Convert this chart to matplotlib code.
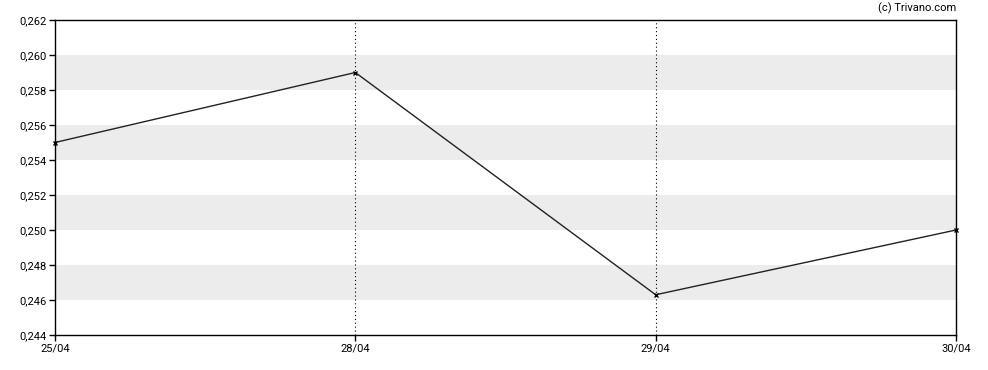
import matplotlib
matplotlib.use("Agg")
import matplotlib.pyplot as plt

dates = ["25/04", "28/04", "29/04", "30/04"]
prices = [0.255, 0.259, 0.2463, 0.250]
y_ticks = [0.244, 0.246, 0.248, 0.250, 0.252, 0.254, 0.256, 0.258, 0.260, 0.262]
y_labels = ["0,244", "0,246", "0,248", "0,250", "0,252", "0,254", "0,256", "0,258", "0,260", "0,262"]
bands = [(0.246, 0.248), (0.250, 0.252), (0.254, 0.256), (0.258, 0.260)]
vlines_at = ["28/04", "29/04"]

plt.rcParams['font.family'] = ['Roboto', 'DejaVu Sans']

fig = plt.figure(figsize=(9.88, 3.70), dpi=100)
ax = fig.add_axes([55/988, 1-335/370, (956-55)/988, (335-20)/370])

x = list(range(len(dates)))
for lo, hi in bands:
    ax.axhspan(lo, hi, color='#ececec', zorder=0, lw=0)
for d in vlines_at:
    ax.axvline(dates.index(d), color='black', linestyle=(0, (1, 2.5)), lw=0.8, zorder=1)

ax.plot(x, prices, color='#222222', lw=1.0, marker='x', markersize=3.5, mew=1.0, mec='black', zorder=3, clip_on=False)

ax.set_xlim(0, len(dates) - 1)
ax.set_ylim(y_ticks[0], y_ticks[-1])
ax.set_xticks(x)
ax.set_xticklabels(dates)
ax.set_yticks(y_ticks)
ax.set_yticklabels(y_labels)
ax.tick_params(axis='both', direction='out', length=4, width=1, labelsize=8, colors='black', pad=2)
for s in ax.spines.values():
    s.set_linewidth(1)
    s.set_color('black')

fig.text(956/988, 1-8/370, "(c) Trivano.com", ha='right', va='center', fontsize=8)

fig.savefig("out.png", dpi=100)
